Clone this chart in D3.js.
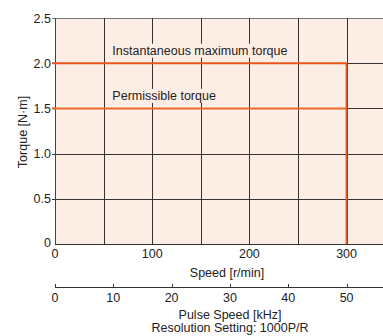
<!DOCTYPE html>
<html><head><meta charset="utf-8">
<script src="https://cdn.jsdelivr.net/npm/d3@7"></script>
<style>
body{margin:0;background:#fff;}
text{font-family:"Liberation Sans",Arial,sans-serif;fill:#222;}
</style></head><body>
<script>
const speedTicks = [0, 100, 200, 300];
const speedGrid = [50, 100, 150, 200, 250, 300];
const torqueTicks = [0, 0.5, 1.0, 1.5, 2.0, 2.5];
const pulseTicks = [0, 10, 20, 30, 40, 50];
const maxTorque = [{s:0,t:2.0},{s:300,t:2.0},{s:300,t:0}];
const permTorque = [{s:0,t:1.5},{s:300,t:1.5}];
const labels = [{s:59,t:2.0,text:"Instantaneous maximum torque"},{s:59,t:1.5,text:"Permissible torque"}];

const W=383,H=336,FS=12.5;
const svg=d3.select("body").append("svg").attr("width",W).attr("height",H);
const x=d3.scaleLinear().domain([0,350]).range([55,55+3.5*97.2]);
const y=d3.scaleLinear().domain([0,2.5]).range([244,18]);
const xp=d3.scaleLinear().domain([0,50]).range([x(0),x(300)]);
const orange="#e8561c", bg="#fdeee5";

svg.append("rect").attr("x",x(0)).attr("y",y(2.5)).attr("width",x(350)-x(0)).attr("height",y(0)-y(2.5)).attr("fill",bg);

// horizontal grid
svg.selectAll(".hg").data(torqueTicks.filter(d=>d>0)).enter().append("line")
 .attr("x1",d=>x(0)-3).attr("x2",x(350)).attr("y1",d=>Math.round(y(d))+0.5).attr("y2",d=>Math.round(y(d))+0.5)
 .attr("stroke",d=>d===2.5?"#777":"#333").attr("stroke-width",1);
// vertical grid
svg.selectAll(".vg").data(speedGrid).enter().append("line")
 .attr("x1",d=>Math.round(x(d))+0.5).attr("x2",d=>Math.round(x(d))+0.5).attr("y1",y(2.5)).attr("y2",y(0))
 .attr("stroke","#333").attr("stroke-width",1);

// labels with background
labels.forEach(l=>{
  const g=svg.append("g");
  const t=g.append("text").attr("x",x(l.s)).attr("y",y(l.t)-8.5).attr("font-size",FS).text(l.text);
  const b=t.node().getBBox();
  g.insert("rect","text").attr("x",b.x-2).attr("y",b.y).attr("width",b.width+4).attr("height",b.height).attr("fill",bg);
});

// axes lines
svg.append("line").attr("x1",x(0)+0.5).attr("x2",x(0)+0.5).attr("y1",y(2.5)).attr("y2",y(0)).attr("stroke","#444");
svg.append("line").attr("x1",x(0)).attr("x2",x(350)).attr("y1",y(0)+0.5).attr("y2",y(0)+0.5).attr("stroke","#333");

const line=d3.line().x(d=>x(d.s)).y(d=>y(d.t));
svg.append("path").datum(permTorque).attr("d",line).attr("fill","none").attr("stroke","#ee6a2a").attr("stroke-width",2);
svg.append("path").datum(maxTorque).attr("d",line).attr("fill","none").attr("stroke",orange).attr("stroke-width",2);
// orange tick marks on left
svg.selectAll(".ot").data([2.0,1.5]).enter().append("line")
 .attr("x1",x(0)-3).attr("x2",x(0)).attr("y1",d=>y(d)).attr("y2",d=>y(d)).attr("stroke",orange).attr("stroke-width",2);

// y tick labels
svg.selectAll(".yt").data(torqueTicks).enter().append("text")
 .attr("x",x(0)-4).attr("y",d=>d===0?y(d)+3:y(d)+4.5).attr("text-anchor","end")
 .attr("font-size",FS).text(d=>d===0?"0":d3.format(".1f")(d));
// x tick labels
svg.selectAll(".xt").data(speedTicks).enter().append("text")
 .attr("x",d=>x(d)).attr("y",y(0)+14).attr("text-anchor","middle")
 .attr("font-size",FS).text(d=>d);
svg.append("text").attr("x",227).attr("y",y(0)+33).attr("text-anchor","middle").attr("font-size",FS).text("Speed [r/min]");
svg.append("text").attr("transform","translate(27,132) rotate(-90)").attr("text-anchor","middle").attr("font-size",FS).text("Torque [N·m]");

// pulse axis
const py=287;
svg.append("line").attr("x1",xp(0)).attr("x2",W).attr("y1",py+0.5).attr("y2",py+0.5).attr("stroke","#333");
svg.selectAll(".pt").data(pulseTicks).enter().append("line")
 .attr("x1",d=>Math.round(xp(d))+0.5).attr("x2",d=>Math.round(xp(d))+0.5).attr("y1",py-3).attr("y2",py).attr("stroke","#333");
svg.selectAll(".pl").data(pulseTicks).enter().append("text")
 .attr("x",d=>xp(d)).attr("y",py+15).attr("text-anchor","middle").attr("font-size",FS).text(d=>d);
svg.append("text").attr("x",230).attr("y",319).attr("text-anchor","middle").attr("font-size",FS).text("Pulse Speed [kHz]");
svg.append("text").attr("x",230).attr("y",332).attr("text-anchor","middle").attr("font-size",FS).text("Resolution Setting: 1000P/R");
</script></body></html>
